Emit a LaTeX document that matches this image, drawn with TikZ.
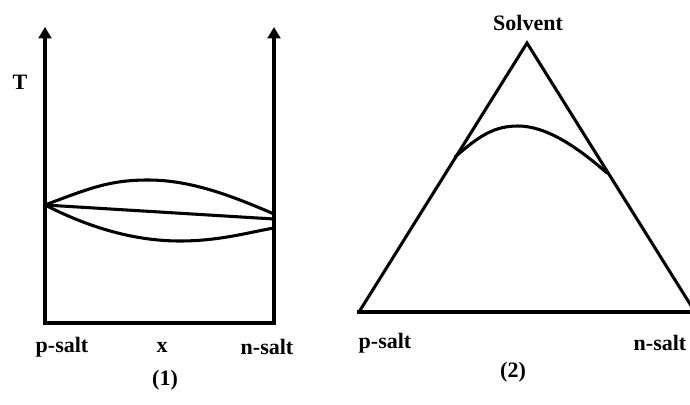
\documentclass[tikz,border=0pt]{standalone}
\usepackage{fontspec}
\setmainfont{Liberation Serif}
\usetikzlibrary{arrows.meta}
\begin{document}
\begin{tikzpicture}[x=0.75pt,y=-0.75pt,
  ln/.style={line width=2.3pt, line join=miter},
  cv/.style={line width=2.3pt, line cap=round},
  lbl/.style={font=\fontsize{16.5}{18}\selectfont\bfseries, inner sep=0pt},
  arr/.style={ln, -{Triangle[width=9.5pt,length=8.5pt]}}]
\useasboundingbox (0,0) rectangle (690,404);
% diagram (1)
\coordinate (tl) at (45,27);
\coordinate (tr) at (274,27);
\coordinate (bl) at (45,323);
\coordinate (br) at (274,323);
\draw[arr] (bl) -- (tl);
\draw[arr] (br) -- (tr);
\draw[ln] ([xshift=-1.15pt]bl) -- ([xshift=1.15pt]br);
\coordinate (L0) at (45,205);
\coordinate (R1) at (274,214);
\coordinate (R2) at (274,219);
\coordinate (R3) at (274,228);
\draw[cv] (L0) .. controls (90,188) and (110,180) .. (148,180) .. controls (190,180) and (230,195) .. (R1);
\draw[cv] (L0) -- (R2);
\draw[cv] (L0) .. controls (90,228) and (135,241) .. (180,241) .. controls (220,241) and (250,232) .. (R3);
\node[lbl] (T) at (20,82) {T};
\node[lbl] (ps1) at (62,347) {p-salt};
\node[lbl] (x) at (162,347) {x};
\node[lbl] (ns1) at (267,347) {n-salt};
\node[lbl] (c1) at (165,380) {(1)};
% diagram (2)
\coordinate (A) at (527,43);
\coordinate (B) at (359,312);
\coordinate (C) at (695,312);
\draw[ln] (B) -- (A) -- (C);
\draw[ln] ([xshift=-1.15pt]B) -- (C);
\coordinate (P) at (455,157);
\coordinate (Q) at (607,173);
\draw[cv] (P) .. controls (480,135) and (495,126) .. (518,126) .. controls (545,126) and (575,145) .. (Q);
\node[lbl] (solv) at (528,23) {Solvent};
\node[lbl] (ps2) at (385,343) {p-salt};
\node[lbl] (ns2) at (660,343) {n-salt};
\node[lbl] (c2) at (513,372) {(2)};
\end{tikzpicture}
\end{document}
